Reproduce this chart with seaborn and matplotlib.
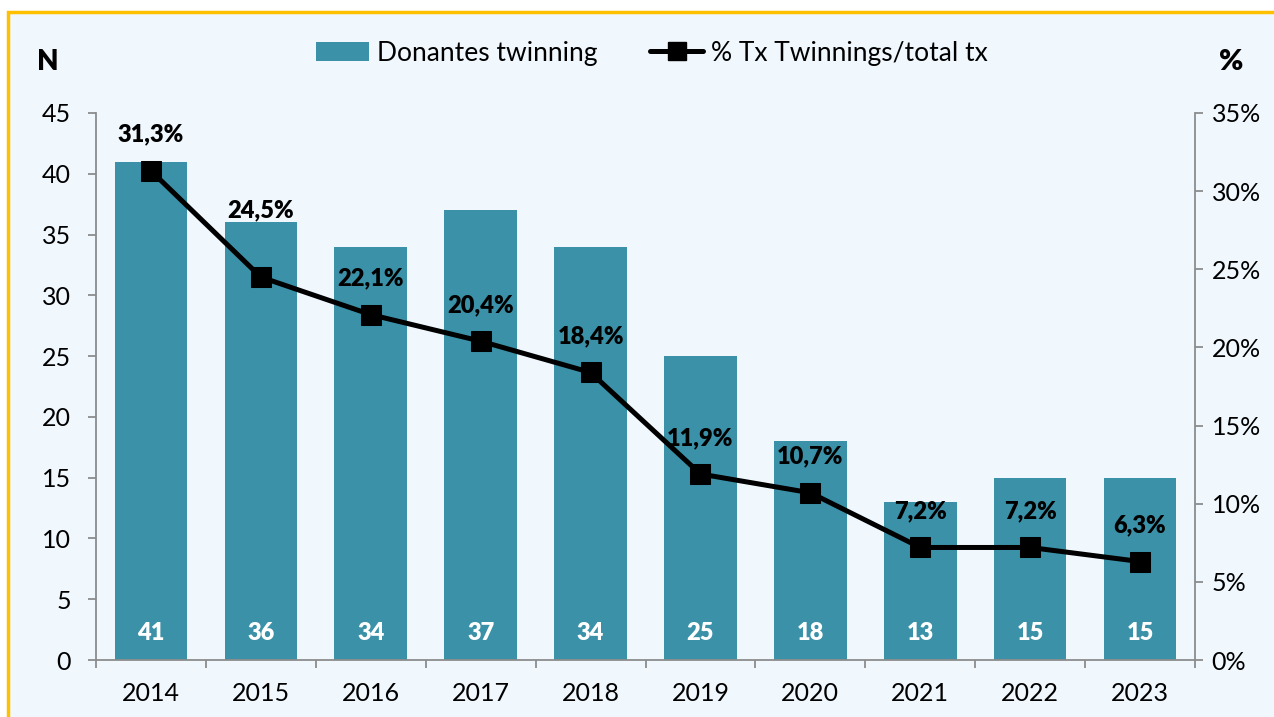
import numpy as np
import pandas as pd
import matplotlib
matplotlib.use("Agg")
import matplotlib.pyplot as plt
from matplotlib.patches import Rectangle
from matplotlib.lines import Line2D
from matplotlib.patches import Patch
import seaborn as sns

years = ["2014", "2015", "2016", "2017", "2018", "2019", "2020", "2021", "2022", "2023"]
donors = [41, 36, 34, 37, 34, 25, 18, 13, 15, 15]
pct_twinning = [31.3, 24.5, 22.1, 20.4, 18.4, 11.9, 10.7, 7.2, 7.2, 6.3]

bar_color = "#3A91A8"
bg_color = "#F0F8FE"
spine_color = "#8C8C8C"

sns.set_style("white")
plt.rcParams["font.family"] = ["Lato", "DejaVu Sans"]
plt.rcParams["text.color"] = "black"
plt.rcParams["xtick.color"] = "black"
plt.rcParams["ytick.color"] = "black"

fig = plt.figure(figsize=(12.74, 7.17), dpi=100, facecolor="white")
# panel background with orange frame
fig.patches.append(Rectangle((8 / 1274, -0.05), 1.05, 1 - 11.5 / 717 + 0.05,
                             transform=fig.transFigure, facecolor=bg_color,
                             edgecolor="#FFC000", linewidth=2.5, zorder=-10))

ax = fig.add_axes([96 / 1274, 1 - 660 / 717, (1195 - 96) / 1274, (660 - 113) / 717])
ax.set_facecolor("none")

df = pd.DataFrame({"year": years, "donors": donors, "pct": pct_twinning})
sns.barplot(data=df, x="year", y="donors", color=bar_color, saturation=1,
            width=0.66, linewidth=0, ax=ax)
ax.set_ylim(0, 45)
ax.set_xlim(-0.5, len(years) - 0.5)
ax.set_yticks(range(0, 46, 5))
ax.set_xlabel("")
ax.set_ylabel("")

for i, v in enumerate(donors):
    ax.text(i, 2.2, str(v), ha="center", va="center", color="white",
            fontsize=17, fontweight="heavy")

ax2 = ax.twinx()
sns.lineplot(x=np.arange(len(years)), y=pct_twinning, ax=ax2, color="black",
             linewidth=3.6, marker="s", markersize=15, markeredgecolor="black",
             markerfacecolor="black")
ax2.set_ylim(0, 35)
ax2.set_yticks(range(0, 36, 5))
ax2.set_yticklabels([f"{t}%" for t in range(0, 36, 5)])
ax2.set_xlim(-0.5, len(years) - 0.5)

label_offset = [26] * len(years)
label_offset[1] = 48
for i, v in enumerate(pct_twinning):
    ax2.annotate(f"{v:.1f}%".replace(".", ","), (i, v), xytext=(0, label_offset[i]),
                 textcoords="offset points", ha="center", va="center",
                 fontsize=17, fontweight="heavy", color="black")

for a in (ax, ax2):
    a.spines["top"].set_visible(False)
    for s in ("left", "right", "bottom"):
        a.spines[s].set_color(spine_color)
        a.spines[s].set_linewidth(1.3)
ax.spines["right"].set_visible(False)
ax2.spines["left"].set_visible(False)
ax2.spines["bottom"].set_visible(False)

ax.tick_params(axis="y", left=True, length=6, width=1.3, color=spine_color,
               labelsize=18, labelcolor="black", pad=12)
ax.set_xticks(np.arange(len(years)))
ax.set_xticklabels(years)
ax.set_xticks(np.arange(-0.5, len(years)), minor=True)
ax.tick_params(axis="x", which="major", length=0, labelsize=18,
               labelcolor="black", pad=16)
ax.tick_params(axis="x", which="minor", bottom=True, length=6, width=1.3,
               color=spine_color)
ax2.tick_params(axis="y", right=True, length=6, width=1.3, color=spine_color,
                labelsize=18, labelcolor="black", pad=6)

fig.text(48 / 1274, 1 - 62 / 717, "N", ha="center", va="center",
         fontsize=20, fontweight="heavy")
fig.text(1231 / 1274, 1 - 62 / 717, "%", ha="center", va="center",
         fontsize=21, fontweight="heavy")

handles = [Patch(facecolor=bar_color, edgecolor="none"),
           Line2D([0], [0], color="black", linewidth=3.6, marker="s",
                  markersize=13)]
fig.legend(handles, ["Donantes twinning", "% Tx Twinnings/total tx"],
           loc="center", bbox_to_anchor=(652 / 1274, 1 - 53 / 717), ncol=2,
           frameon=False, fontsize=19, handlelength=2.0, handleheight=0.75,
           handletextpad=0.3, columnspacing=2.0)

fig.savefig("out.png", dpi=100, facecolor="white")
